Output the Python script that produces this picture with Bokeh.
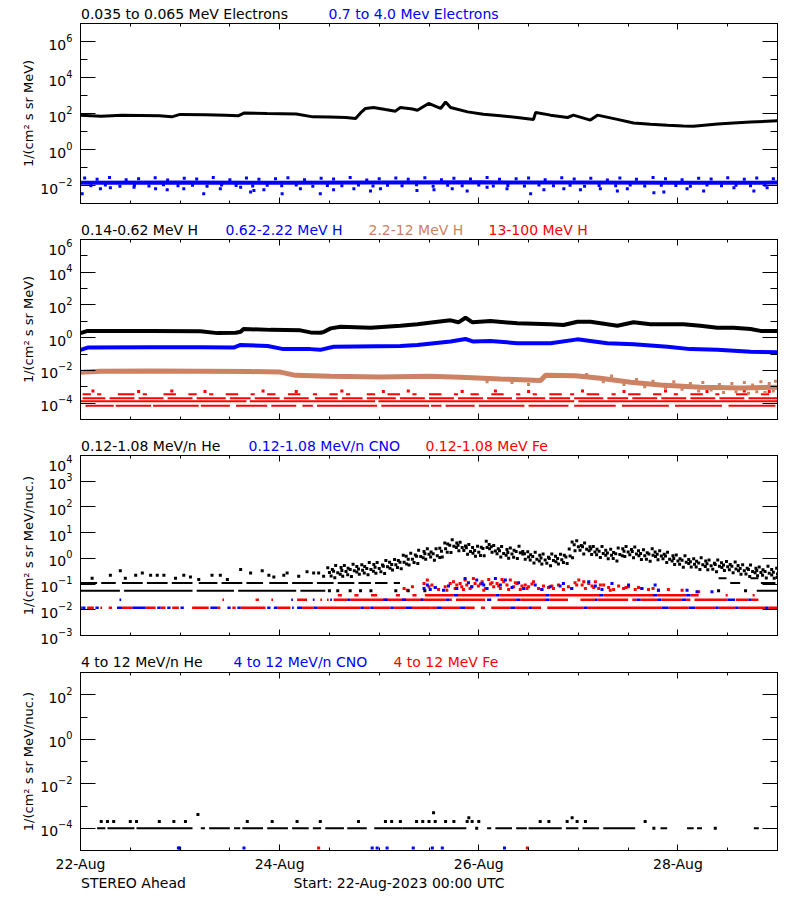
from bokeh.plotting import figure
from bokeh.models import FixedTicker, LinearAxis, LogAxis, Range1d, CustomJSTickFormatter
from bokeh.core.properties import value
from bokeh.layouts import column
from bokeh.embed import file_html
from bokeh.resources import INLINE

FONT = "DejaVu Sans"
FS = "14px"
BLACK = "#000000"
BLUE = "#0000FF"
RED = "#FF0000"
BROWN = "#CD8264"

# ---------------- x axis (hours since 22-Aug-2023 00:00 UTC) ----------------
x_major = [0, 48, 96, 144]
x_minor = [12, 24, 36, 60, 72, 84, 108, 120, 132, 156, 168]
x_labels = ["22-Aug", "24-Aug", "26-Aug", "28-Aug"]

# ---------------- panel titles ----------------
t1_text = ["0.035 to 0.065 MeV Electrons", "0.7 to 4.0 Mev Electrons"]
t1_color = [BLACK, BLUE]
t2_text = ["0.14-0.62 MeV H", "0.62-2.22 MeV H", "2.2-12 MeV H", "13-100 MeV H"]
t2_color = [BLACK, BLUE, BROWN, RED]
t3_text = ["0.12-1.08 MeV/n He", "0.12-1.08 MeV/n CNO", "0.12-1.08 MeV Fe"]
t3_color = [BLACK, BLUE, RED]
t4_text = ["4 to 12 MeV/n He", "4 to 12 MeV/n CNO", "4 to 12 MeV Fe"]
t4_color = [BLACK, BLUE, RED]
foot_text = ["STEREO Ahead", "Start: 22-Aug-2023 00:00 UTC"]
foot_color = [BLACK, BLACK]

# ---------------- panel 1 : electrons ----------------
e_lo_t = [0, 5, 10, 19, 22, 24, 30, 35, 38, 39.5, 45, 52, 56, 60, 64, 66.3, 67.5, 68.7, 70.6, 73.5,
          75.9, 77.1, 80, 81.2, 83.9, 86.8, 88, 89.2, 93.3, 97.1, 101.2, 105.3, 109.2, 109.7, 113.3, 117.4,
          118.8, 122.9, 124.6, 129.4, 133.3, 137.4, 141.5, 145.3, 147.7, 153.6, 157.4, 161.5, 168]
e_lo_v = [79, 71, 79, 76, 65, 89, 85, 79, 74, 107, 100, 95, 65, 63, 60, 52, 107, 190, 214, 166,
          135, 214, 178, 151, 363, 190, 437, 214, 123, 91, 74, 60, 47, 115, 81, 60,
          81, 43, 81, 47, 30, 25, 22, 20, 19.5, 26, 30, 34, 39]

e_hi_core_t = [0, 24, 48, 72, 96, 120, 144, 168]
e_hi_core_v = [0.014, 0.0145, 0.014, 0.0145, 0.015, 0.0145, 0.014, 0.0145]
e_hi_up_t = [1, 4, 7, 11, 14, 18, 21, 25, 28, 32, 36, 40, 43, 47, 50, 54, 58, 61, 65, 69,
             72, 76, 79, 83, 87, 90, 94, 98, 101, 105, 108, 112, 116, 119, 123, 127, 130, 134, 138, 141,
             145, 149, 152, 156, 160, 163, 167]
e_hi_up_v = [0.026, 0.022, 0.028, 0.021, 0.024, 0.027, 0.020, 0.025, 0.023, 0.028,
             0.021, 0.026, 0.022, 0.024, 0.027, 0.021, 0.025, 0.023, 0.028, 0.020,
             0.024, 0.026, 0.022, 0.027, 0.021, 0.025, 0.023, 0.028, 0.022, 0.024,
             0.026, 0.021, 0.027, 0.023, 0.025, 0.020, 0.026, 0.022, 0.028, 0.024,
             0.021, 0.025, 0.023, 0.027, 0.022, 0.026, 0.024]
e_hi_mid_t = [2.5, 6, 9.5, 13, 16.5, 20, 23.5, 27, 30.5, 34, 37.5, 41.5, 45, 48.5, 52, 56, 59.5, 63, 67, 70.5,
              74, 77.5, 81, 85, 88.5, 92, 96, 99.5, 103, 107, 110.5, 114, 118, 121.5, 125, 129, 132.5, 136, 140,
              143.5, 147, 151, 154.5, 158, 161.5, 165]
e_hi_mid_v = [0.0098, 0.0105, 0.0092, 0.0102, 0.0095, 0.011, 0.0097, 0.0103, 0.009, 0.0106,
              0.0099, 0.0093, 0.0104, 0.0096, 0.0108, 0.0091, 0.0101, 0.0097, 0.0105, 0.0094,
              0.0102, 0.0098, 0.0109, 0.0092, 0.0103, 0.0096, 0.0107, 0.0095, 0.01, 0.0093,
              0.0106, 0.0098, 0.0104, 0.0091, 0.0101, 0.0097, 0.0108, 0.0094, 0.0103, 0.0099,
              0.0092, 0.0105, 0.0096, 0.0102, 0.0098, 0.0104]
e_hi_low_t = [0.4, 4.8, 7.2, 12.9, 18.1, 20.9, 24.9, 29.7, 33.7, 38.6, 41, 41.8, 44.2, 48.6, 53, 57.8, 61, 65.9,
              69.9, 72.3, 81.1, 85.2, 89.6, 93.2, 98, 102.8, 108.5, 111.7, 116.5, 120.5, 125.3, 129.4, 131.8,
              138.2, 140.6, 146.2, 150.2, 157.5, 162.3, 165.5]
e_hi_low_v = [0.0035, 0.0066, 0.0074, 0.0081, 0.0066, 0.0058, 0.0066, 0.0035, 0.0066, 0.0081, 0.0043, 0.0052,
              0.0058, 0.0035, 0.0066, 0.0035, 0.0058, 0.0066, 0.0049, 0.0066, 0.0052, 0.0058, 0.0066, 0.0049,
              0.0081, 0.0066, 0.0035, 0.0058, 0.0066, 0.0058, 0.0066, 0.0049, 0.0066, 0.0039, 0.0043, 0.0066,
              0.0049, 0.0074, 0.0049, 0.0074]

# ---------------- panel 2 : protons ----------------
ph_k_t = [0, 1.7, 16.9, 28.9, 33, 37.4, 38.6, 39.3, 45.8, 53, 55.4, 57.8, 58.6, 60.3, 62.7, 69.9, 77.1, 81.2,
          85.1, 89.2, 91.1, 92.8, 94.5, 98.8, 105.3, 113.3, 116.4, 119.8, 122.9, 127, 129.4, 133.3, 137.4,
          145.3, 149.4, 153.5, 157.4, 161.5, 163.9, 168]
ph_k_v = [1.9, 2.6, 2.6, 2.5, 1.9, 2.0, 2.3, 3.4, 3.0, 2.8, 2.1, 2.0, 2.2, 3.7, 4.7, 4.1, 5.4, 6.6,
          8.7, 11.5, 8.7, 16.6, 8.7, 10.5, 7.6, 6.6, 5.9, 9.5, 9.5, 6.6, 5.4, 8.7, 6.6,
          6.6, 5.4, 4.1, 4.1, 3.4, 2.6, 2.6]
ph_b_t = [0, 1.7, 16.9, 28.9, 36.9, 38.6, 45.1, 48.9, 55.4, 57.8, 61, 77.1, 81.2, 89.2, 92.8, 94.7, 98.8,
          105.3, 113.3, 119.8, 122.9, 127, 133.3, 141.5, 147, 153.5, 161.5, 168]
ph_b_v = [0.18, 0.25, 0.26, 0.26, 0.25, 0.36, 0.31, 0.2, 0.2, 0.18, 0.28, 0.31, 0.36, 0.58, 0.83, 0.58, 0.63,
          0.46, 0.46, 0.79, 0.63, 0.46, 0.4, 0.28, 0.2, 0.18, 0.14, 0.13]
ph_r_t = [0, 4.8, 16.9, 28.9, 41, 48.2, 51.8, 60.3, 72.3, 83.9, 91.6, 101.2, 110.9, 112.1, 119.3, 125.3,
          132.6, 139.8, 149.4, 159.1, 168]
ph_r_v = [0.0076, 0.0089, 0.0093, 0.0089, 0.0085, 0.0079, 0.005, 0.0044, 0.004, 0.0044, 0.0038, 0.003,
          0.0024, 0.005, 0.0047, 0.0033, 0.0019, 0.0013, 0.00095, 0.00083, 0.00095]
ph_r_sc_t = [98, 104, 108, 122, 126, 128, 131, 134, 136, 138, 141, 143, 145, 147, 149, 150, 152, 154, 155, 157,
             158, 160, 161, 162, 163, 164, 165, 166, 167, 167.5]
ph_r_sc_v = [0.002, 0.0018, 0.0014, 0.0056, 0.002, 0.0045, 0.0014, 0.0028, 0.001, 0.0022, 0.00089, 0.002,
             0.0007, 0.0016, 0.00056, 0.0018, 0.00063, 0.0014, 0.00045, 0.0016, 0.0005, 0.0018, 0.0004,
             0.0013, 0.0005, 0.002, 0.00045, 0.0016, 0.00056, 0.0022]
# 13-100 MeV H : quantised count levels, runs of data (hours)
ph_hh_levels = [3.5e-4, 2.0e-4, 1.3e-4, 7.0e-5]
ph_hh_runs = [
    [[0.5, 2.5], [4, 5], [9, 13], [15, 16], [20, 23], [26, 28], [31, 32], [35, 38], [41, 42], [45, 47],
     [50, 53], [56, 57], [60, 62], [64, 65], [69, 71], [74, 77], [80, 81], [84, 87], [90, 91], [94, 96],
     [99, 102], [105, 106], [109, 110], [113, 116], [118, 119], [122, 125], [128, 129], [132, 135],
     [138, 140], [143, 144], [147, 150], [153, 154], [158, 161], [164, 166]],
    [[0.5, 6], [7, 13], [14, 20], [21, 27], [28, 35], [36, 41], [42, 48], [49, 55], [56.5, 62], [63, 68],
     [69, 76], [77, 83], [84, 90], [91, 97], [98, 104], [105, 112], [113, 118], [119, 126], [127, 132],
     [133, 139], [140, 146], [147, 153], [154, 160], [161, 168]],
    [[0, 40], [40.8, 71], [71.8, 119], [120, 168]],
    [[1.2, 8], [8.5, 17], [17.5, 28.5], [29, 36], [37.5, 45], [46, 52], [53.5, 56], [57, 71.5], [72.5, 84],
     [84.5, 87], [88, 95], [96, 107], [108, 117.6], [119, 129], [130.5, 141.8], [143.3, 154.6],
     [156.2, 167.5]],
]
ph_hh_dot_t = [3, 14, 22, 30, 44, 52, 63, 73, 79, 92, 100, 108, 121, 131, 141, 151, 160, 166]
ph_hh_dot_v = [5.6e-4, 5.2e-4, 5.6e-4, 5.2e-4, 5.6e-4, 5.2e-4, 5.6e-4, 5.2e-4, 5.6e-4,
               5.2e-4, 5.6e-4, 5.2e-4, 5.6e-4, 5.2e-4, 5.6e-4, 5.2e-4, 5.6e-4, 5.2e-4]

# ---------------- panel 3 : 0.12-1.08 MeV/n ions ----------------
he_sparse_t = [2.8, 7.2, 9.6, 10.8, 13.3, 14.9, 16.9, 18.5, 20.1, 22.9, 24.9, 26.5, 28.5, 31.7, 33.7, 35.4,
               38.6, 41, 43.8, 45.4, 46.6, 49, 49.8, 52.6, 54.6, 56.2, 57.4, 58.6]
he_sparse_v = [0.17, 0.22, 0.33, 0.17, 0.22, 0.27, 0.22, 0.22, 0.22, 0.17, 0.22, 0.19, 0.15, 0.22, 0.22, 0.15,
               0.37, 0.27, 0.33, 0.22, 0.19, 0.22, 0.27, 0.2, 0.3, 0.27, 0.27, 0.2]
he_cloud_mid_t = [60, 61, 62, 63, 64, 65, 66, 67, 68, 69, 70, 71, 72, 73, 74, 75, 76, 77, 78, 79,
                  80, 81, 82, 83, 84, 85, 86, 87, 88, 89, 90, 91, 92, 93, 94, 95, 96, 97, 98, 99,
                  100, 101, 102, 103, 104, 105, 106, 107, 108, 109, 110, 111, 112, 113, 114, 115, 116, 117, 118,
                  119, 120, 121, 122, 123, 124, 125, 126, 127, 128, 129, 130, 131, 132, 133, 134, 135, 136, 137,
                  138, 139, 140, 141, 142, 143, 144, 145, 146, 147, 148, 149, 150, 151, 152, 153, 154, 155, 156,
                  157, 158, 159, 160, 161, 162, 163, 164, 165, 166, 167, 168]
he_cloud_hi_t = [59.6, 60.7, 61.5, 62.8, 63.6, 64.5, 65.7, 66.6, 67.8, 68.5, 69.6, 70.7, 71.5, 72.8, 73.6, 74.5,
                 75.7, 76.6, 77.8, 78.5, 79.6, 80.7, 81.5, 82.8, 83.6, 84.5, 85.7, 86.6, 87.8, 88.5, 89.6, 90.7,
                 91.5, 92.8, 93.6, 94.5, 95.7, 96.6, 97.8, 98.5, 99.6, 100.7, 101.5, 102.8, 103.6, 104.5, 105.7,
                 106.6, 107.8, 108.5, 109.6, 110.7, 111.5, 112.8, 113.6, 114.5, 115.7, 116.6, 117.8, 118.5, 119.6,
                 120.7, 121.5, 122.8, 123.6, 124.5, 125.7, 126.6, 127.8, 128.5, 129.6, 130.7, 131.5, 132.8, 133.6,
                 134.5, 135.7, 136.6, 137.8, 138.5, 139.6, 140.7, 141.5, 142.8, 143.6, 144.5, 145.7, 146.6, 147.8,
                 148.5, 149.6, 150.7, 151.5, 152.8, 153.6, 154.5, 155.7, 156.6, 157.8, 158.5, 159.6, 160.7, 161.5,
                 162.8, 163.6, 164.5, 165.7, 166.6, 167.8]
he_cloud_lo_t = [60.4, 61.3, 62.6, 63.2, 64.4, 65.3, 66.6, 67.2, 68.4, 69.3, 70.6, 71.2, 72.4, 73.3, 74.6, 75.2,
                 76.4, 77.3, 78.6, 79.2, 80.4, 81.3, 82.6, 83.2, 84.4, 85.3, 86.6, 87.2, 88.4, 89.3, 90.6, 91.2,
                 92.4, 93.3, 94.6, 95.2, 96.4, 97.3, 98.6, 99.2, 100.4, 101.3, 102.6, 103.2, 104.4, 105.3, 106.6,
                 107.2, 108.4, 109.3, 110.6, 111.2, 112.4, 113.3, 114.6, 115.2, 116.4, 117.3, 118.6, 119.2, 120.4,
                 121.3, 122.6, 123.2, 124.4, 125.3, 126.6, 127.2, 128.4, 129.3, 130.6, 131.2, 132.4, 133.3, 134.6,
                 135.2, 136.4, 137.3, 138.6, 139.2, 140.4, 141.3, 142.6, 143.2, 144.4, 145.3, 146.6, 147.2, 148.4,
                 149.3, 150.6, 151.2, 152.4, 153.3, 154.6, 155.2, 156.4, 157.3, 158.6, 159.2, 160.4, 161.3, 162.6,
                 163.2, 164.4, 165.3, 166.6, 167.2, 167.9]
he_cloud_hi_log = [-0.37, -0.43, -0.28, -0.36, -0.28, -0.38, -0.23, -0.32, -0.25, -0.32,
                   -0.16, -0.24, -0.16, -0.26, -0.08, -0.15, -0.04, -0.08, 0.12, 0.08,
                   0.2, 0.13, 0.32, 0.27, 0.37, 0.25, 0.37, 0.39, 0.6, 0.56,
                   0.72, 0.6, 0.63, 0.48, 0.54, 0.42, 0.47, 0.43, 0.67, 0.54,
                   0.5, 0.37, 0.46, 0.34, 0.4, 0.32, 0.47, 0.27, 0.26, 0.14,
                   0.24, 0.12, 0.17, 0.04, 0.17, 0.08, 0.16, 0.12, 0.36, 0.64,
                   0.68, 0.5, 0.6, 0.45, 0.46, 0.35, 0.46, 0.32, 0.35, 0.23,
                   0.4, 0.37, 0.46, 0.34, 0.44, 0.3, 0.33, 0.22, 0.37, 0.25,
                   0.3, 0.16, 0.24, 0.1, 0.13, -0.02, 0.1, -0.04, -0.02, -0.11,
                   0.02, -0.1, -0.06, -0.19, -0.06, -0.17, -0.12, -0.24, -0.14, -0.28,
                   -0.25, -0.38, -0.26, -0.38, -0.34, -0.44, -0.31, -0.43, -0.38]
he_cloud_mid_log = [-0.55, -0.5, -0.56, -0.47, -0.51, -0.43, -0.48, -0.41, -0.46, -0.39,
                    -0.43, -0.35, -0.39, -0.31, -0.33, -0.24, -0.25, -0.15, -0.15, -0.03,
                    -0.03, 0.08, 0.07, 0.18, 0.16, 0.18, 0.1, 0.28, 0.37, 0.51,
                    0.47, 0.51, 0.42, 0.41, 0.27, 0.31, 0.24, 0.38, 0.42, 0.45,
                    0.29, 0.3, 0.19, 0.23, 0.17, 0.27, 0.22, 0.18, 0.05, 0.07,
                    -0.03, 0.01, -0.06, -0.01, -0.08, -0.01, -0.05, 0.05, 0.09, 0.53,
                    0.45, 0.45, 0.35, 0.36, 0.25, 0.28, 0.19, 0.21, 0.12, 0.18,
                    0.15, 0.28, 0.25, 0.27, 0.17, 0.19, 0.1, 0.17, 0.12, 0.16,
                    0.09, 0.09, -0.03, -0.01, -0.1, -0.07, -0.15, -0.13, -0.23, -0.18,
                    -0.25, -0.21, -0.29, -0.24, -0.31, -0.26, -0.33, -0.31, -0.41, -0.39,
                    -0.48, -0.43, -0.51, -0.47, -0.55, -0.51, -0.58, -0.54, -0.61]
he_cloud_lo_log = [-0.69, -0.75, -0.62, -0.7, -0.64, -0.71, -0.53, -0.62, -0.57, -0.64,
                   -0.5, -0.58, -0.52, -0.59, -0.38, -0.45, -0.36, -0.4, -0.22, -0.26,
                   -0.16, -0.2, 0.02, -0.03, 0.05, -0.07, 0.03, 0.05, 0.24, 0.23,
                   0.42, 0.3, 0.31, 0.16, 0.2, 0.08, 0.11, 0.1, 0.37, 0.24,
                   0.18, 0.05, 0.12, 0.0, 0.04, -0.01, 0.17, -0.03, -0.06, -0.18,
                   -0.1, -0.22, -0.19, -0.29, -0.13, -0.22, -0.16, -0.2, 0.02, 0.3,
                   0.32, 0.17, 0.3, 0.15, 0.14, 0.03, 0.12, -0.02, -0.01, -0.1,
                   0.1, 0.07, 0.14, 0.02, 0.1, -0.04, -0.03, -0.11, 0.07, -0.05,
                   -0.02, -0.16, -0.1, -0.24, -0.23, -0.35, -0.2, -0.34, -0.34, -0.43,
                   -0.32, -0.44, -0.42, -0.52, -0.36, -0.47, -0.44, -0.56, -0.48, -0.62,
                   -0.61, -0.71, -0.56, -0.68, -0.66, -0.76, -0.65, -0.77, -0.74]
he_row_levels = [0.17, 0.11, 0.055]
he_row_runs = [
    [[153.8, 155.7], [161.5, 163.4]],
    [[0, 4], [5, 8.5], [10, 15], [16, 21], [22, 27], [28.5, 33], [34, 39], [40, 44], [45.5, 50], [51, 56],
     [57, 61], [62, 66], [67, 70], [71, 74], [75.5, 77], [156.6, 159], [164, 167.5]],
    [[0, 9.5], [10.5, 27], [28, 37], [38, 52], [53, 59], [163, 168]],
]
he_row_dot_t = [60, 62, 65, 67.5, 70, 76, 79, 83, 153.8, 160.3]
he_row_dot_v = [0.055, 0.055, 0.055, 0.055, 0.055, 0.055, 0.055, 0.055, 0.055, 0.055]

ion_row_levels = [0.037, 0.0245, 0.012]
cno_row_runs = [
    [[90, 91], [100, 101], [112, 113], [125, 126], [138, 139], [146, 147]],
    [[9.4, 9.8], [50.8, 51.2], [56, 56.4], [60.2, 60.6], [64.3, 65], [73, 74], [77.5, 78.5], [82, 82.6],
     [88, 89], [98, 99], [105, 106], [112, 113], [124, 124.6], [134, 135], [139, 140], [145, 146],
     [156, 157.8], [161, 161.6]],
    [[0.4, 1.2], [3.6, 4.4], [8.8, 10], [12.5, 15.7], [18.5, 19.3], [20.9, 21.7], [24.1, 24.9], [31.3, 32.9],
     [35.4, 36.2], [37.8, 38.6], [45, 45.8], [46.6, 47.4], [51, 51.4], [52.2, 53.4], [56.2, 57], [67.5, 68.3],
     [69.9, 70.7], [74.7, 75.5], [78.3, 79.9], [85.9, 87.1], [91.5, 92.7], [103.6, 104.8], [108, 108.8],
     [121.3, 122.1], [140.1, 141.7], [146.6, 148.2], [153, 153.8], [157.8, 158.6], [165, 165.8]],
]
fe_row_runs = [
    [[62, 63], [66, 67], [70, 71.5], [76, 77], [80, 81], [83, 90], [91, 100], [101, 112], [113, 125],
     [126, 138], [139, 146], [147, 149], [155.5, 156], [162, 162.5]],
    [[34.2, 34.6], [42.2, 43], [46, 46.4], [52.2, 54.6], [57.8, 58.2], [59.4, 59.8], [61, 64.3], [65, 84],
     [84, 88], [89, 89.5], [90.5, 97.5], [100.5, 105], [106, 112], [113, 117.5], [120.5, 124],
     [124.6, 132], [133, 134], [135, 139], [140, 145], [146, 147], [148, 156], [158, 161], [161.6, 163.4]],
    [[0, 0.4], [1.6, 3.2], [4.8, 5.2], [6.8, 7.6], [10, 12.5], [15.7, 18.1], [19.3, 20.5], [22.1, 23.7],
     [26.9, 30.9], [32.9, 33.7], [36.6, 37.4], [38.6, 44.6], [47.4, 50.6], [53.4, 56.2], [57, 67.5],
     [68.3, 69.9], [70.7, 74.7], [75.5, 78.3], [79.9, 84.4], [84.4, 85.9], [87.1, 91.5], [92.7, 95],
     [96.5, 97.5], [99, 103.6], [104.8, 108], [108.8, 111], [112.5, 121.3], [122.1, 140.1], [141.7, 146.6],
     [148.2, 153], [153.8, 157.8], [158.6, 165], [165.8, 168]],
]
fe_cl_t = [84.7, 86.3, 87.9, 89.1, 89.9, 90.3, 91.5, 91.9, 92.7, 93.1, 93.9, 94.7, 95.1, 95.9, 96.8, 97.6,
           98.4, 98.8, 99.6, 100.4, 101.2, 102, 102.8, 103.6, 104.4, 105.2, 106, 107.2, 108, 109.2, 110.4,
           111.6, 112.8, 114, 115.2, 116.4, 117.6, 119.2, 120.1, 120.9, 121.7, 122.5, 123.3, 124.1, 124.9,
           126.1, 127.3, 128.5, 129.7, 130.9, 132.1, 133.7, 135.3, 136.9, 139.3, 141.7, 145, 149,
           78, 78.8, 80, 82.8, 83.6, 84,
           85.5, 88.3, 90.7, 92.3, 94.3, 96.4, 97.2, 99.2, 100.8, 101.6, 103.2, 104.8, 106.4, 107.6, 108.8,
           111.2, 113.6, 118.4, 119.6, 121.3, 123.7, 125.3, 127.7, 131.5, 134.5, 138]
fe_cl_v = [0.091, 0.062, 0.079, 0.106, 0.123, 0.068, 0.106, 0.079, 0.143, 0.091, 0.068, 0.166, 0.106, 0.084,
           0.123, 0.068, 0.152, 0.1, 0.079, 0.106, 0.068, 0.123, 0.091, 0.143, 0.079, 0.106, 0.062, 0.091,
           0.079, 0.123, 0.068, 0.084, 0.074, 0.068, 0.091, 0.062, 0.079, 0.113, 0.143, 0.091, 0.068, 0.106,
           0.084, 0.123, 0.068, 0.091, 0.074, 0.062, 0.084, 0.068, 0.079, 0.062, 0.068, 0.062, 0.058, 0.062,
           0.058, 0.05,
           0.068, 0.058, 0.079, 0.106, 0.143, 0.079,
           0.074, 0.058, 0.091, 0.062, 0.079, 0.1, 0.058, 0.113, 0.084, 0.152, 0.062, 0.113, 0.084, 0.068, 0.1,
           0.062, 0.084, 0.068, 0.091, 0.123, 0.074, 0.091, 0.058, 0.074, 0.074, 0.068]
cno_cl_t = [84.3, 85.5, 87.5, 88.7, 90.7, 92.7, 93.5, 94.3, 95.5, 96.8, 97.2, 98, 100, 101.2, 102.4, 104,
            105.6, 106.8, 109.6, 111.2, 113.2, 115.6, 116.4, 118.4, 122.5, 124.1, 125.7, 128.1, 132.1, 135.3,
            138.5, 139.3, 146.2, 148.6, 152.2, 82.8, 83.6]
cno_cl_v = [0.062, 0.074, 0.058, 0.084, 0.068, 0.166, 0.113, 0.079, 0.143, 0.106, 0.091, 0.068, 0.166, 0.091,
            0.143, 0.074, 0.113, 0.068, 0.091, 0.062, 0.079, 0.084, 0.106, 0.068, 0.123, 0.084, 0.062, 0.106,
            0.091, 0.068, 0.091, 0.058, 0.058, 0.05, 0.05, 0.068, 0.091]

# ---------------- panel 4 : 4-12 MeV/n ions ----------------
he4_level = 1.0e-4
he4_runs = [[4, 6], [6.5, 13], [13.5, 27], [29, 30], [31, 36], [37, 38.5], [39, 44], [45, 50], [51, 55],
            [56, 58], [59, 63.5], [64.3, 69], [70.8, 77.6], [77.6, 93], [98, 99], [100, 104], [105, 107.6],
            [108, 116], [117, 120], [121, 125], [126, 133.7], [139.8, 141.4], [146.2, 147.8], [148.6, 149.8],
            [162.3, 163.5]]
he4_dot_t = [5, 6.5, 8, 12, 13.5, 19, 22.5, 25.3, 40.2, 46.2, 52.2, 57.8, 67, 73.5, 75, 77.1, 81, 82.5, 84,
             85.5, 88, 90, 93.2, 94.4, 96, 110.8, 112.9, 117.3, 119.7, 121.7, 136.1, 28.3, 85.1, 93.6, 118.5,
             138.2, 153, 95.5]
he4_dot_v = [2e-4, 2e-4, 2e-4, 2e-4, 2e-4, 2e-4, 2e-4, 2e-4, 2e-4, 2e-4, 2e-4, 2e-4, 2e-4, 2e-4, 2e-4,
             2e-4, 2e-4, 2e-4, 2e-4, 2e-4, 2e-4, 2e-4, 2e-4, 2e-4, 2e-4, 2e-4, 2e-4, 2e-4, 2e-4, 2e-4,
             2e-4, 4.2e-4, 5e-4, 3e-4, 3e-4, 1e-4, 1e-4, 1e-4]
cno4_t = [23.6, 23.9, 39.4, 70.3, 71.5, 73.9, 80.2, 84.8, 87.2, 102.2]
cno4_v = [1.3e-5, 1.3e-5, 1.3e-5, 1.3e-5, 1.3e-5, 1.3e-5, 1.3e-5, 1.3e-5, 1.3e-5, 1.3e-5]
fe4_t = [57.4, 107.7]
fe4_v = [1.3e-5, 1.3e-5]

# ---------------- layout constants (pixels) ----------------
W = 800
BL = 80      # left border -> plot box starts at x=80
BR = 23      # right border -> plot box ends at x=777
FRAME_W = W - BL - BR
FRAME_H = 180
BLANK = CustomJSTickFormatter(code="return ''")


def style_axis(ax, tick_in, minor_in, show_labels):
    ax.axis_line_color = BLACK
    ax.major_tick_in = tick_in
    ax.major_tick_out = 0
    ax.minor_tick_in = minor_in
    ax.minor_tick_out = 0
    ax.major_tick_line_color = BLACK
    ax.minor_tick_line_color = BLACK
    ax.major_label_text_font = FONT
    ax.major_label_text_color = BLACK
    if show_labels:
        ax.major_label_text_font_size = FS
    else:
        ax.formatter = BLANK
        ax.major_label_text_font_size = "1px"
        ax.major_label_standoff = 0


def make_text_strip(height, texts, colors, xs, y_pos):
    # text-only strip; its frame is aligned with the plot boxes (x in pixels from the box's left edge)
    s = figure(width=W, height=height, x_range=Range1d(0, FRAME_W), y_range=Range1d(0, height),
               output_backend="svg", toolbar_location=None, x_axis_location=None, y_axis_location=None,
               min_border_left=BL, min_border_right=BR, min_border_top=0, min_border_bottom=0)
    s.grid.visible = False
    s.outline_line_color = None
    s.background_fill_color = "white"
    s.border_fill_color = "white"
    s.text(x=xs, y=[y_pos] * len(texts), text=texts, text_color=colors,
           text_font=value(FONT), text_font_size=value(FS), text_baseline="middle", text_align="left")
    return s


def make_panel(bottom, y_lo, y_hi, y_major, y_minor, y_title, show_dates):
    p = figure(width=W, height=1 + FRAME_H + bottom, x_range=Range1d(0, 168), y_range=Range1d(y_lo, y_hi),
               y_axis_type="log", output_backend="svg", toolbar_location=None,
               min_border_left=BL, min_border_right=BR, min_border_top=1, min_border_bottom=bottom)
    p.grid.visible = False
    p.outline_line_color = BLACK
    p.background_fill_color = "white"
    p.border_fill_color = "white"
    xb = p.xaxis[0]
    xb.ticker = FixedTicker(ticks=x_major, minor_ticks=x_minor)
    style_axis(xb, 6, 3, show_dates)
    if show_dates:
        xb.major_label_overrides = dict(zip(x_major, x_labels))
        xb.major_label_standoff = 5
    yl = p.yaxis[0]
    yl.ticker = FixedTicker(ticks=y_major, minor_ticks=y_minor)
    style_axis(yl, 15, 7, True)
    yl.major_label_standoff = 8
    yl.axis_label = y_title
    yl.axis_label_text_font = FONT
    yl.axis_label_text_font_size = "13px"
    yl.axis_label_text_font_style = "normal"
    yl.axis_label_text_color = BLACK
    yl.axis_label_standoff = 1
    xa = LinearAxis(ticker=FixedTicker(ticks=x_major, minor_ticks=x_minor))
    style_axis(xa, 6, 3, False)
    p.add_layout(xa, "above")
    yr = LogAxis(ticker=FixedTicker(ticks=y_major, minor_ticks=y_minor))
    style_axis(yr, 15, 7, False)
    p.add_layout(yr, "right")
    return p


def segs(p, runs, level, color, width=2.5):
    p.segment(x0=[r[0] for r in runs], y0=[level] * len(runs), x1=[r[1] for r in runs],
              y1=[level] * len(runs), line_color=color, line_width=width)


def dots(p, t, v, color, size=3):
    p.scatter(t, v, marker="square", size=size, fill_color=color, line_color=None)


UNIT = "1/(cm\u00b2 s sr MeV)"
UNIT_N = "1/(cm\u00b2 s sr MeV/nuc.)"

h1 = make_text_strip(22, t1_text, t1_color, [0.5, 248], 8.7)
h2 = make_text_strip(29, t2_text, t2_color, [0.5, 145, 288, 408], 9)
h3 = make_text_strip(29, t3_text, t3_color, [0.5, 168, 345], 9)
h4 = make_text_strip(26, t4_text, t4_color, [0.5, 153, 313], 10)
foot = make_text_strip(18, foot_text, foot_color, [0.5, 213], 9.5)

# panel 1
p1 = make_panel(6, 1e-3, 1e7, [1e-2, 1, 1e2, 1e4, 1e6], [1e-1, 1e1, 1e3, 1e5], UNIT, False)
p1.line(e_hi_core_t, e_hi_core_v, line_color=BLUE, line_width=4)
dots(p1, e_hi_up_t, e_hi_up_v, BLUE)
dots(p1, e_hi_mid_t, e_hi_mid_v, BLUE)
dots(p1, e_hi_low_t, e_hi_low_v, BLUE)
p1.line(e_lo_t, e_lo_v, line_color=BLACK, line_width=3)

# panel 2
p2 = make_panel(6, 1e-5, 1e6, [1e-4, 1e-2, 1, 1e2, 1e4, 1e6], [1e-3, 1e-1, 1e1, 1e3, 1e5], UNIT, False)
for lvl, runs in zip(ph_hh_levels, ph_hh_runs):
    segs(p2, runs, lvl, RED, 2)
dots(p2, ph_hh_dot_t, ph_hh_dot_v, RED)
p2.line(ph_r_t, ph_r_v, line_color=BROWN, line_width=5)
dots(p2, ph_r_sc_t, ph_r_sc_v, BROWN, 3)
p2.line(ph_b_t, ph_b_v, line_color=BLUE, line_width=4)
p2.line(ph_k_t, ph_k_v, line_color=BLACK, line_width=4)

# panel 3
p3 = make_panel(10, 1e-3, 1e4, [1e-3, 1e-2, 1e-1, 1, 1e1, 1e2, 1e3, 1e4], [], UNIT_N, False)
for lvl, runs in zip(ion_row_levels, fe_row_runs):
    segs(p3, runs, lvl, RED)
for lvl, runs in zip(ion_row_levels, cno_row_runs):
    segs(p3, runs, lvl, BLUE)
dots(p3, fe_cl_t, fe_cl_v, RED)
dots(p3, cno_cl_t, cno_cl_v, BLUE)
for lvl, runs in zip(he_row_levels, he_row_runs):
    segs(p3, runs, lvl, BLACK, 2)
dots(p3, he_row_dot_t, he_row_dot_v, BLACK)
dots(p3, he_sparse_t, he_sparse_v, BLACK)
dots(p3, he_cloud_hi_t, [10 ** v for v in he_cloud_hi_log], BLACK)
dots(p3, he_cloud_mid_t, [10 ** v for v in he_cloud_mid_log], BLACK)
dots(p3, he_cloud_lo_t, [10 ** v for v in he_cloud_lo_log], BLACK)

# panel 4
p4 = make_panel(22, 1e-5, 1e3, [1e-4, 1e-2, 1, 1e2], [1e-3, 1e-1, 1e1], UNIT_N, True)
segs(p4, he4_runs, he4_level, BLACK, 2)
dots(p4, he4_dot_t, he4_dot_v, BLACK)
dots(p4, cno4_t, cno4_v, BLUE)
dots(p4, fe4_t, fe4_v, RED)

layout = column(h1, p1, h2, p2, h3, p3, h4, p4, foot, spacing=0)
open("out.html", "w").write(file_html(layout, INLINE))
